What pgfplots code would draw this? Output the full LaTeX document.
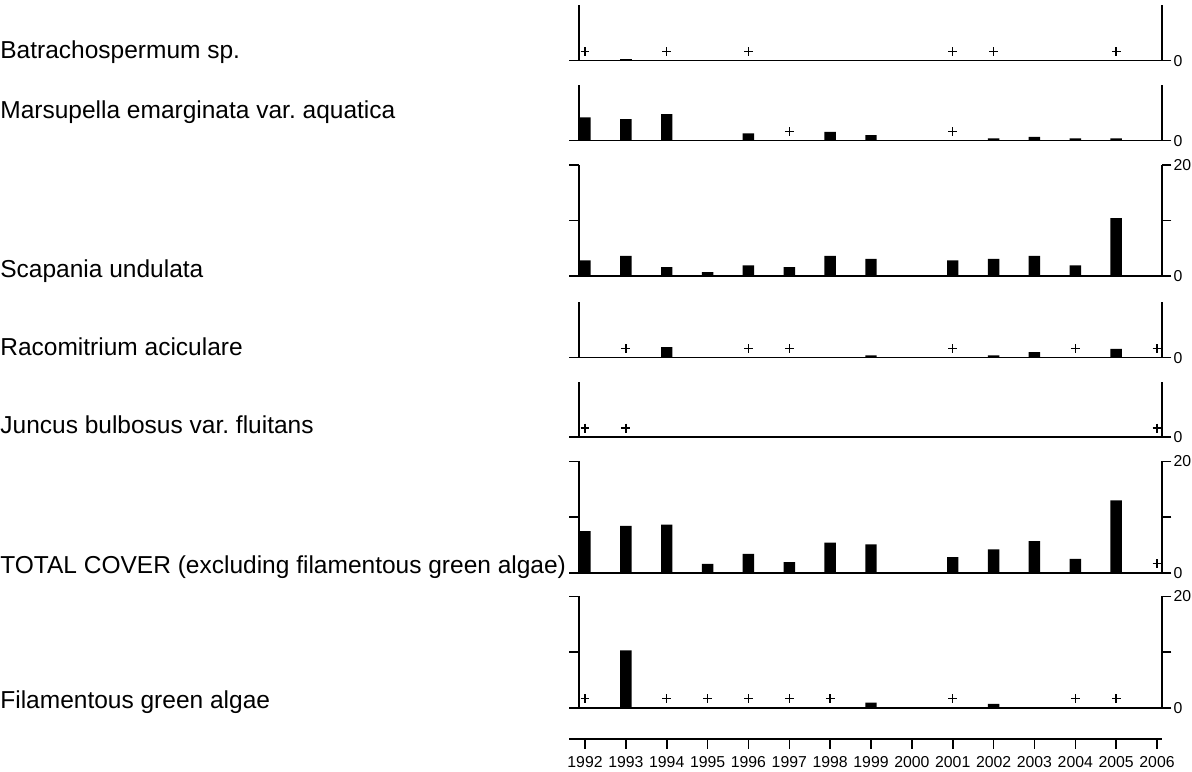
\documentclass[border=0pt]{standalone}
\usepackage{fontspec}
\setmainfont{Liberation Sans}
\usepackage{pgfplots}
\pgfplotsset{compat=1.18}
\newcommand{\tickfont}{\fontsize{7.9}{9}\selectfont}
\newcommand{\labfont}{\fontsize{12.25}{14}\selectfont}
\pgfplotsset{
 panel/.style={scale only axis, width=291.35pt, xmin=1991.853, xmax=2006.115, ymin=0,
   anchor=south west, axis x line*=bottom, axis y line*=box, xtick=\empty,
   tick align=outside, major tick length=4.8pt,
   axis line style={line width=0.8pt, black}, tick style={line width=0.8pt, black},
   yticklabel pos=right, yticklabel style={font=\tickfont, inner sep=1pt},
   clip=false, /pgf/number format/assume math mode=true},
 small/.style={panel, height=27.8pt, ymax=10, ytick={0}},
 large/.style={panel, height=55.6pt, ymax=20, ytick={0,10,20}, yticklabels={0,,20}},
 bars/.style={ybar, bar width=5.7pt, fill=black, draw=none},
 plus/.style={only marks, mark=+, mark size=2.2pt, mark options={line width=0.7pt, black}},
}
\begin{document}
\frenchspacing
\begin{tikzpicture}
\useasboundingbox (0,0) rectangle (596pt,385.5pt);
% labels
\node[anchor=base west, inner sep=0] at (0,356pt) {\labfont Batrachospermum sp.};
\node[anchor=base west, inner sep=0] at (0,326pt) {\labfont Marsupella emarginata var. aquatica};
\node[anchor=base west, inner sep=0] at (0,246.5pt) {\labfont Scapania undulata};
\node[anchor=base west, inner sep=0] at (0,207.5pt) {\labfont Racomitrium aciculare};
\node[anchor=base west, inner sep=0] at (0,168.5pt) {\labfont Juncus bulbosus var. fluitans};
\node[anchor=base west, inner sep=0] at (0,99pt) {\labfont TOTAL COVER (excluding filamentous green algae)};
\node[anchor=base west, inner sep=0] at (0,31.5pt) {\labfont Filamentous green algae};

% Panel 1 Batrachospermum
\begin{axis}[small, at={(289.5pt,355.15pt)}]
\addplot[bars] coordinates {(1993,0.35)};
\addplot[plus] coordinates {(1992,1.65) (1994,1.65) (1996,1.65) (2001,1.65) (2002,1.65) (2005,1.65)};
\end{axis}

% Panel 2 Marsupella
\begin{axis}[small, at={(289.5pt,315.15pt)}]
\addplot[bars] coordinates {(1992,4.2) (1993,3.9) (1994,4.8) (1996,1.3) (1998,1.6) (1999,1.0) (2002,0.4) (2003,0.7) (2004,0.4) (2005,0.4)};
\addplot[plus] coordinates {(1997,1.65) (2001,1.65)};
\end{axis}

% Panel 3 Scapania
\begin{axis}[large, at={(289.5pt,247.5pt)}]
\addplot[bars] coordinates {(1992,2.8) (1993,3.6) (1994,1.6) (1995,0.7) (1996,1.9) (1997,1.6) (1998,3.6) (1999,3.1) (2001,2.8) (2002,3.1) (2003,3.6) (2004,1.9) (2005,10.4)};
\end{axis}

% Panel 4 Racomitrium
\begin{axis}[small, at={(289.5pt,206.65pt)}]
\addplot[bars] coordinates {(1994,1.9) (1999,0.4) (2002,0.4) (2003,1.0) (2005,1.6)};
\addplot[plus] coordinates {(1993,1.65) (1996,1.65) (1997,1.65) (2001,1.65) (2004,1.65) (2006,1.65)};
\end{axis}

% Panel 5 Juncus
\begin{axis}[small, at={(289.5pt,166.85pt)}]
\addplot[plus] coordinates {(1992,1.65) (1993,1.65) (2006,1.65)};
\end{axis}

% Panel 6 Total cover
\begin{axis}[large, at={(289.5pt,99.15pt)}]
\addplot[bars] coordinates {(1992,7.5) (1993,8.4) (1994,8.65) (1995,1.6) (1996,3.4) (1997,1.9) (1998,5.4) (1999,5.1) (2001,2.8) (2002,4.2) (2003,5.7) (2004,2.5) (2005,13.0)};
\addplot[plus] coordinates {(2006,1.65)};
\end{axis}

% Panel 7 Filamentous
\begin{axis}[large, at={(289.5pt,31.65pt)}]
\addplot[bars] coordinates {(1993,10.3) (1999,0.9) (2002,0.7)};
\addplot[plus] coordinates {(1992,1.65) (1994,1.65) (1995,1.65) (1996,1.65) (1997,1.65) (1998,1.65) (2001,1.65) (2004,1.65) (2005,1.65)};
\end{axis}

% Year axis
\begin{axis}[scale only axis, width=296.5pt, height=1pt, at={(284.5pt,16pt)}, anchor=south west,
  xmin=1991.608, xmax=2006.122, ymin=0, ymax=1, axis x line*=bottom, axis y line=none,
  xtick={1992,1993,...,2006}, tick align=outside, major tick length=5pt,
  axis line style={line width=0.8pt, black}, tick style={line width=0.8pt, black},
  xticklabel style={font=\tickfont, inner sep=3.5pt},
  /pgf/number format/1000 sep={}, /pgf/number format/assume math mode=true]
\addplot[draw=none] coordinates {(2000,0.5)};
\end{axis}
\end{tikzpicture}
\end{document}
